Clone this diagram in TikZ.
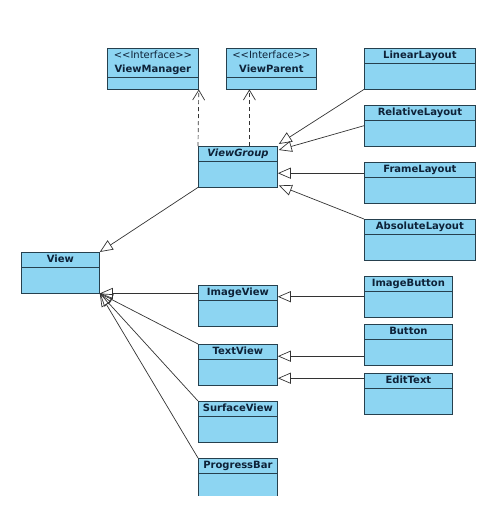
\documentclass[tikz,border=0pt]{standalone}
\usepackage{fontspec}
\setsansfont{DejaVu Sans}
\usetikzlibrary{arrows.meta,shapes.multipart}

\definecolor{clsfill}{HTML}{8DD5F2}
\definecolor{clsline}{HTML}{26404E}
\definecolor{clstext}{HTML}{0E2238}
\definecolor{linkgray}{HTML}{333333}

\newcommand{\clsgap}{\rule{0pt}{22pt}}
\newcommand{\ifacegap}{\rule{0pt}{8pt}}

\begin{document}
\begin{tikzpicture}[x=1pt,y=-1pt,
    cls/.style={rectangle split, rectangle split parts=2, draw=clsline, fill=clsfill,
        line width=0.8pt, anchor=north west, inner xsep=0pt, inner ysep=1.5pt,
        text width=#1, align=center, text=clstext,
        font=\fontsize{10}{11}\selectfont\sffamily\bfseries},
    extends/.style={draw=linkgray, line width=0.7pt, -{Triangle[open,length=13pt,width=11pt]}},
    realizes/.style={draw=linkgray, line width=0.7pt, dash pattern=on 4pt off 3pt,
        -{Straight Barb[length=10pt,width=12pt]}}]
    \useasboundingbox (0,0) rectangle (486,507);
    \clip (0,0) rectangle (486,495);

    % interfaces
    \node[cls=91pt] (vmanager) at (107,48) {{\mdseries\strut <{}<Interface>{}>}\\[3pt]ViewManager\strut \nodepart{two}\ifacegap};
    \node[cls=90pt] (vparent) at (226,48) {{\mdseries\strut <{}<Interface>{}>}\\[3pt]ViewParent\strut \nodepart{two}\ifacegap};

    % classes
    \node[cls=79pt] (vgroup) at (198,146) {\itshape ViewGroup\strut \nodepart{two}\clsgap};
    \node[cls=111pt] (linear) at (364,48) {LinearLayout\strut \nodepart{two}\clsgap};
    \node[cls=111pt] (relative) at (364,105) {RelativeLayout\strut \nodepart{two}\clsgap};
    \node[cls=111pt] (frame) at (364,162) {FrameLayout\strut \nodepart{two}\clsgap};
    \node[cls=111pt] (absolute) at (364,219) {AbsoluteLayout\strut \nodepart{two}\clsgap};
    \node[cls=78pt] (view) at (21,252) {View\strut \nodepart{two}\clsgap};
    \node[cls=79pt] (imageview) at (198,285) {ImageView\strut \nodepart{two}\clsgap};
    \node[cls=79pt] (textview) at (198,344) {TextView\strut \nodepart{two}\clsgap};
    \node[cls=79pt] (surface) at (198,401) {SurfaceView\strut \nodepart{two}\clsgap};
    \node[cls=79pt] (progress) at (198,458) {ProgressBar\strut \nodepart{two}\clsgap};
    \node[cls=88pt] (imagebutton) at (364,276) {ImageButton\strut \nodepart{two}\clsgap};
    \node[cls=88pt] (button) at (364,324) {Button\strut \nodepart{two}\clsgap};
    \node[cls=88pt] (edittext) at (364,373) {EditText\strut \nodepart{two}\clsgap};

    \path (vgroup.north west) edge[realizes] (vmanager.south east)
        ([xshift=-22pt]vparent.south |- vgroup.north) edge[realizes] ([xshift=-22pt]vparent.south);

    \path (linear.south west) edge[extends] ([shift={(1pt,2pt)}]vgroup.north east)
        (relative.west) edge[extends] ([shift={(1pt,-4pt)}]vgroup.north east)
        ([yshift=9.5pt]frame.west) edge[extends] ([yshift=9.5pt]frame.west -| vgroup.east)
        (absolute.north west) edge[extends] ([shift={(1pt,2pt)}]vgroup.south east)
        (vgroup.south west) edge[extends] (view.north east)
        (view.south east -| imageview.west) edge[extends] (view.south east)
        (textview.north west) edge[extends] (view.south east)
        (surface.north west) edge[extends] (view.south east)
        (progress.north west) edge[extends] (view.south east)
        (imagebutton.west) edge[extends] (imagebutton.west -| imageview.east)
        ([yshift=8.5pt]textview.east -| button.west) edge[extends] ([yshift=8.5pt]textview.east)
        ([yshift=-13.5pt]textview.east -| edittext.west) edge[extends] ([yshift=-13.5pt]textview.east);
\end{tikzpicture}
\end{document}
